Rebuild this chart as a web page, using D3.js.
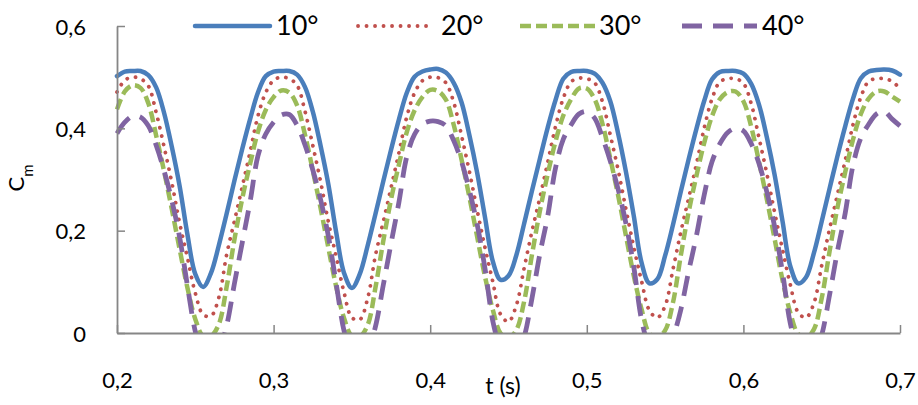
<!DOCTYPE html>
<html>
<head>
<meta charset="utf-8">
<script src="https://cdn.jsdelivr.net/npm/d3@7"></script>
<style>
  html, body { margin: 0; padding: 0; background: #ffffff; }
  svg { display: block; }
  text { font-family: Lato, "Open Sans", "Liberation Sans", sans-serif; fill: #000; }
</style>
</head>
<body>
<svg id="chart" width="918" height="405"></svg>
<script>
// ---------------- data ----------------
const seriesNames = ["10°", "20°", "30°", "40°"];
const xTicks = [0.2, 0.3, 0.4, 0.5, 0.6, 0.7];
const xTickLabels = ["0,2", "0,3", "0,4", "0,5", "0,6", "0,7"];
const yTicks = [0, 0.2, 0.4, 0.6];
const yTickLabels = ["0", "0,2", "0,4", "0,6"];
const tStart = 0.2, tStep = 0.005;

const cm10 = [
 .502,.511,.512,.512,.504,.480,.431,.364,.287,.192,.115,.090,.117,.171,.233,.298,.360,.418,.470,.502,
 .511,.512,.512,.505,.481,.433,.366,.290,.196,.117,.088,.115,.170,.232,.296,.358,.417,.469,.501,.511,
 .515,.516,.509,.489,.451,.387,.313,.226,.140,.104,.112,.152,.214,.278,.340,.401,.455,.497,.510,.512,
 .512,.507,.489,.453,.390,.315,.229,.137,.097,.105,.151,.211,.276,.339,.399,.454,.496,.510,.512,.512,
 .507,.487,.446,.382,.308,.218,.130,.097,.109,.156,.218,.282,.345,.404,.458,.498,.511,.514,.515,.513,
 .505];
const cm20 = [
 .471,.494,.500,.497,.483,.431,.365,.294,.215,.147,.078,.036,.033,.069,.153,.219,.286,.354,.424,.470,
 .494,.500,.497,.484,.434,.367,.296,.217,.149,.079,.030,.026,.067,.151,.217,.284,.352,.422,.469,.493,
 .500,.499,.489,.451,.386,.316,.240,.167,.100,.036,.022,.054,.127,.199,.264,.333,.403,.459,.491,.498,
 .497,.489,.452,.387,.319,.242,.168,.101,.044,.030,.053,.124,.197,.263,.330,.401,.458,.491,.497,.497,
 .488,.448,.381,.311,.235,.163,.094,.040,.030,.058,.132,.203,.270,.337,.407,.461,.492,.497,.497,.492,
 .477];
const cm30 = [
 .437,.472,.484,.479,.449,.386,.317,.242,.164,.088,.027,-.006,-.006,.017,.090,.183,.263,.331,.393,.436,
 .461,.474,.470,.445,.388,.318,.244,.166,.090,.029,-.006,-.007,.015,.088,.179,.261,.329,.392,.435,.461,
 .475,.473,.456,.407,.339,.266,.188,.110,.045,-.001,-.009,.006,.062,.153,.238,.310,.374,.425,.457,.478,
 .478,.457,.409,.341,.269,.190,.112,.046,-.001,-.009,.005,.059,.151,.236,.307,.372,.424,.457,.471,.472,
 .453,.403,.334,.261,.183,.103,.039,-.002,-.009,.007,.068,.159,.244,.314,.378,.428,.458,.472,.472,.462,
 .452];
const cm40 = [
 .390,.412,.424,.422,.405,.367,.318,.259,.187,.092,.003,-.046,-.063,-.036,.014,.097,.177,.257,.346,.389,
 .412,.426,.427,.406,.368,.319,.261,.189,.096,.004,-.045,-.063,-.037,.012,.093,.175,.255,.344,.388,.408,
 .414,.413,.405,.376,.335,.279,.212,.126,.023,-.034,-.070,-.049,-.008,.068,.154,.228,.322,.379,.407,.428,
 .433,.420,.382,.336,.281,.214,.129,.025,-.032,-.070,-.050,-.010,.045,.120,.190,.270,.335,.370,.392,.400,
 .395,.370,.331,.275,.207,.118,.018,-.036,-.067,-.046,-.004,.074,.159,.234,.328,.381,.408,.428,.433,.418,
 .405];

const t = cm10.map((_, i) => +(tStart + i * tStep).toFixed(3));

// ---------------- layout / styles ----------------
const W = 918, H = 405;
const plot = { left: 117, right: 900, top: 26, bottom: 333 };
const styles = [
  { color: "#4A7EBB", width: 4.5, dash: null, cap: "round" },
  { color: "#C0504D", width: 3.8, dash: "0.1 8.4", cap: "round" },
  { color: "#9BBB59", width: 4.5, dash: "11 5", cap: "butt" },
  { color: "#8064A2", width: 4.8, dash: "20 11", cap: "butt" }
];
const allSeries = [cm10, cm20, cm30, cm40];

const svg = d3.select("#chart");
svg.append("rect").attr("width", W).attr("height", H).attr("fill", "#fff");

const x = d3.scaleLinear().domain([0.2, 0.7]).range([plot.left, plot.right]);
const y = d3.scaleLinear().domain([0, 0.6]).range([plot.bottom, plot.top]);

svg.append("defs").append("clipPath").attr("id", "clip")
  .append("rect")
  .attr("x", plot.left - 4).attr("y", 0)
  .attr("width", plot.right - plot.left + 8)
  .attr("height", plot.bottom);

const line = d3.line()
  .x((d, i) => x(t[i]))
  .y(d => y(d))
  .curve(d3.curveCatmullRom.alpha(0.5));

const gLines = svg.append("g").attr("clip-path", "url(#clip)");
allSeries.forEach((vals, k) => {
  const s = styles[k];
  gLines.append("path")
    .datum(vals)
    .attr("d", line)
    .attr("fill", "none")
    .attr("stroke", s.color)
    .attr("stroke-width", s.width)
    .attr("stroke-linecap", s.cap)
    .attr("stroke-linejoin", "round")
    .attr("stroke-dasharray", s.dash);
});

// ---------------- axes ----------------
const axisColor = "#868686";
const tickFont = "22px";
const xAxis = d3.axisBottom(x)
  .tickValues(xTicks)
  .tickFormat((d, i) => xTickLabels[i])
  .tickSizeInner(-8).tickSizeOuter(0);
const gx = svg.append("g").attr("transform", `translate(0,${plot.bottom})`).call(xAxis);
gx.select(".domain").attr("stroke", axisColor).attr("stroke-width", 1.8);
gx.selectAll(".tick line").attr("stroke", axisColor).attr("stroke-width", 1.5);
gx.selectAll(".tick text")
  .attr("y", 55).attr("dy", 0)
  .style("font-size", tickFont)
  .style("font-family", "Lato, 'Open Sans', sans-serif")
  .attr("fill", "#000");

const yAxis = d3.axisLeft(y)
  .tickValues(yTicks)
  .tickFormat((d, i) => yTickLabels[i])
  .tickSizeInner(-8).tickSizeOuter(0);
const gy = svg.append("g").attr("transform", `translate(${plot.left},0)`).call(yAxis);
gy.select(".domain").attr("stroke", axisColor).attr("stroke-width", 1.8);
gy.selectAll(".tick line").attr("stroke", axisColor).attr("stroke-width", 1.5);
gy.selectAll(".tick text")
  .attr("x", -31).attr("dy", 0).attr("y", 8)
  .style("font-size", tickFont)
  .style("font-family", "Lato, 'Open Sans', sans-serif")
  .attr("fill", "#000");

// axis titles
svg.append("text")
  .attr("x", 503).attr("y", 394)
  .attr("text-anchor", "middle")
  .style("font-size", "23px")
  .text("t (s)");

const yTitle = svg.append("text")
  .attr("transform", "translate(24,178) rotate(-90)")
  .attr("text-anchor", "middle")
  .style("font-size", "22px");
yTitle.append("tspan").text("C");
yTitle.append("tspan").attr("dy", 9).style("font-size", "15px").text("m");

// ---------------- legend ----------------
const legendItems = [
  { x1: 195, x2: 270, tx: 276 },
  { x1: 358, x2: 432, tx: 441 },
  { x1: 520, x2: 595, tx: 599 },
  { x1: 682, x2: 757, tx: 762 }
];
const gLeg = svg.append("g");
legendItems.forEach((it, k) => {
  const s = styles[k];
  gLeg.append("line")
    .attr("x1", it.x1).attr("x2", it.x2)
    .attr("y1", 26).attr("y2", 26)
    .attr("stroke", s.color)
    .attr("stroke-width", s.width)
    .attr("stroke-linecap", s.cap)
    .attr("stroke-dasharray", s.dash);
  gLeg.append("text")
    .attr("x", it.tx).attr("y", 35)
    .style("font-size", "27px")
    .text(seriesNames[k]);
});
</script>
</body>
</html>
